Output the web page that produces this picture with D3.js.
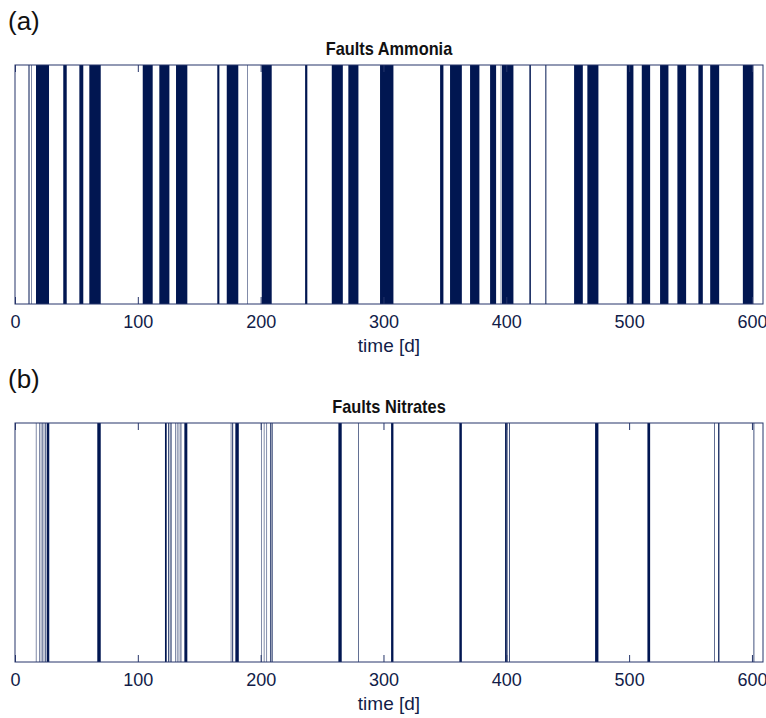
<!DOCTYPE html>
<html>
<head>
<meta charset="utf-8">
<script src="https://cdn.jsdelivr.net/npm/d3@7"></script>
<style>
  html, body { margin: 0; padding: 0; background: #fff; }
  svg { display: block; }
  text { font-family: "Liberation Sans", Arial, sans-serif; }
</style>
</head>
<body>
<svg id="chart" width="766" height="718"></svg>
<script>
// Fault periods [start day, end day] detected for each sensor
const ammoniaFaults = [
  [11.0, 11.8], [13.4, 13.8], [17.1, 27.7], [39.3, 42.1], [52.4, 55.6], [60.5, 69.8],
  [104.0, 112.1], [117.5, 125.7], [131.1, 140.3], [164.7, 166.4], [172.4, 181.8],
  [189.0, 189.4], [200.9, 209.0], [236.2, 238.0], [257.9, 266.9], [271.4, 279.6],
  [297.2, 308.1], [346.1, 348.8], [354.2, 363.8], [370.5, 378.1], [386.8, 391.7],
  [395.5, 395.9], [396.5, 405.8], [418.8, 420.0], [431.8, 432.6], [455.2, 462.3],
  [466.0, 475.0], [498.1, 503.5], [510.3, 517.1], [525.2, 532.0], [539.3, 546.4],
  [556.4, 560.0], [566.0, 573.3], [592.6, 601.2]
];
const nitrateFaults = [
  [17.0, 17.4], [19.7, 20.1], [21.0, 21.4], [22.2, 22.6], [23.4, 23.8], [24.5, 25.0],
  [25.8, 27.9], [67.0, 69.8], [122.1, 123.5], [124.6, 125.2], [126.0, 126.6],
  [127.2, 127.6], [130.3, 130.7], [131.8, 132.2], [133.3, 133.7], [134.8, 135.4],
  [137.9, 140.3], [175.7, 176.1], [176.9, 177.6], [179.4, 182.2], [200.7, 201.1],
  [202.6, 203.0], [204.8, 205.2], [207.6, 208.2], [208.9, 209.7], [263.3, 266.0],
  [279.4, 279.9], [306.2, 308.1], [361.8, 363.8], [399.0, 400.4], [401.0, 401.4],
  [402.2, 402.8], [472.3, 475.0], [514.9, 517.1], [569.3, 569.8], [572.5, 573.5],
  [601.3, 601.9]
];
const xTicks = [0, 100, 200, 300, 400, 500, 600];
const timeDomain = [0, 609];
const panelTitles = ["Faults Ammonia", "Faults Nitrates"];
const panelLetters = ["(a)", "(b)"];
const xLabel = "time [d]";

const svg = d3.select("#chart");
const left = 15, right = 763, plotH = 239;
const tops = [65, 423];
const barColor = "#011651";
const axisColor = "#26356a";

const x = d3.scaleLinear().domain(timeDomain).range([left, right]);

[ammoniaFaults, nitrateFaults].forEach((faults, i) => {
  const top = tops[i];
  const g = svg.append("g");

  g.append("text")
    .attr("x", 8).attr("y", top - 35)
    .attr("font-size", 26).attr("fill", "#111")
    .text(panelLetters[i]);

  // condensed bold title
  const title = g.append("text")
    .attr("x", (left + right) / 2).attr("y", top - 10)
    .attr("text-anchor", "middle")
    .attr("font-size", 19).attr("font-weight", "bold").attr("fill", "#111")
    .text(panelTitles[i]);
  const tw = title.node().getComputedTextLength();
  title.attr("textLength", tw * 0.86).attr("lengthAdjust", "spacingAndGlyphs");

  g.selectAll("rect.fault")
    .data(faults)
    .join("rect")
    .attr("class", "fault")
    .attr("x", d => x(d[0]))
    .attr("width", d => x(d[1]) - x(d[0]))
    .attr("y", top)
    .attr("height", plotH)
    .attr("fill", barColor);

  // bottom axis with inward ticks
  const bottom = g.append("g")
    .attr("transform", `translate(0,${top + plotH})`)
    .call(d3.axisBottom(x).tickValues(xTicks).tickSize(-7).tickPadding(11).tickSizeOuter(0));
  bottom.select(".domain").remove();
  bottom.selectAll(".tick line").attr("stroke", axisColor);
  bottom.selectAll(".tick text")
    .attr("font-size", 18).attr("fill", "#111c48")
    .style("font-family", "'Liberation Sans', Arial, sans-serif");

  // top axis, ticks only
  const topAxis = g.append("g")
    .attr("transform", `translate(0,${top})`)
    .call(d3.axisTop(x).tickValues(xTicks).tickSize(-7).tickFormat(""));
  topAxis.select(".domain").remove();
  topAxis.selectAll(".tick line").attr("stroke", axisColor);

  g.append("rect")
    .attr("x", left).attr("y", top)
    .attr("width", right - left).attr("height", plotH)
    .attr("fill", "none").attr("stroke", axisColor).attr("stroke-width", 1);

  g.append("text")
    .attr("x", (left + right) / 2).attr("y", top + plotH + 48)
    .attr("text-anchor", "middle")
    .attr("font-size", 19).attr("fill", "#111c48")
    .text(xLabel);
});
</script>
</body>
</html>
